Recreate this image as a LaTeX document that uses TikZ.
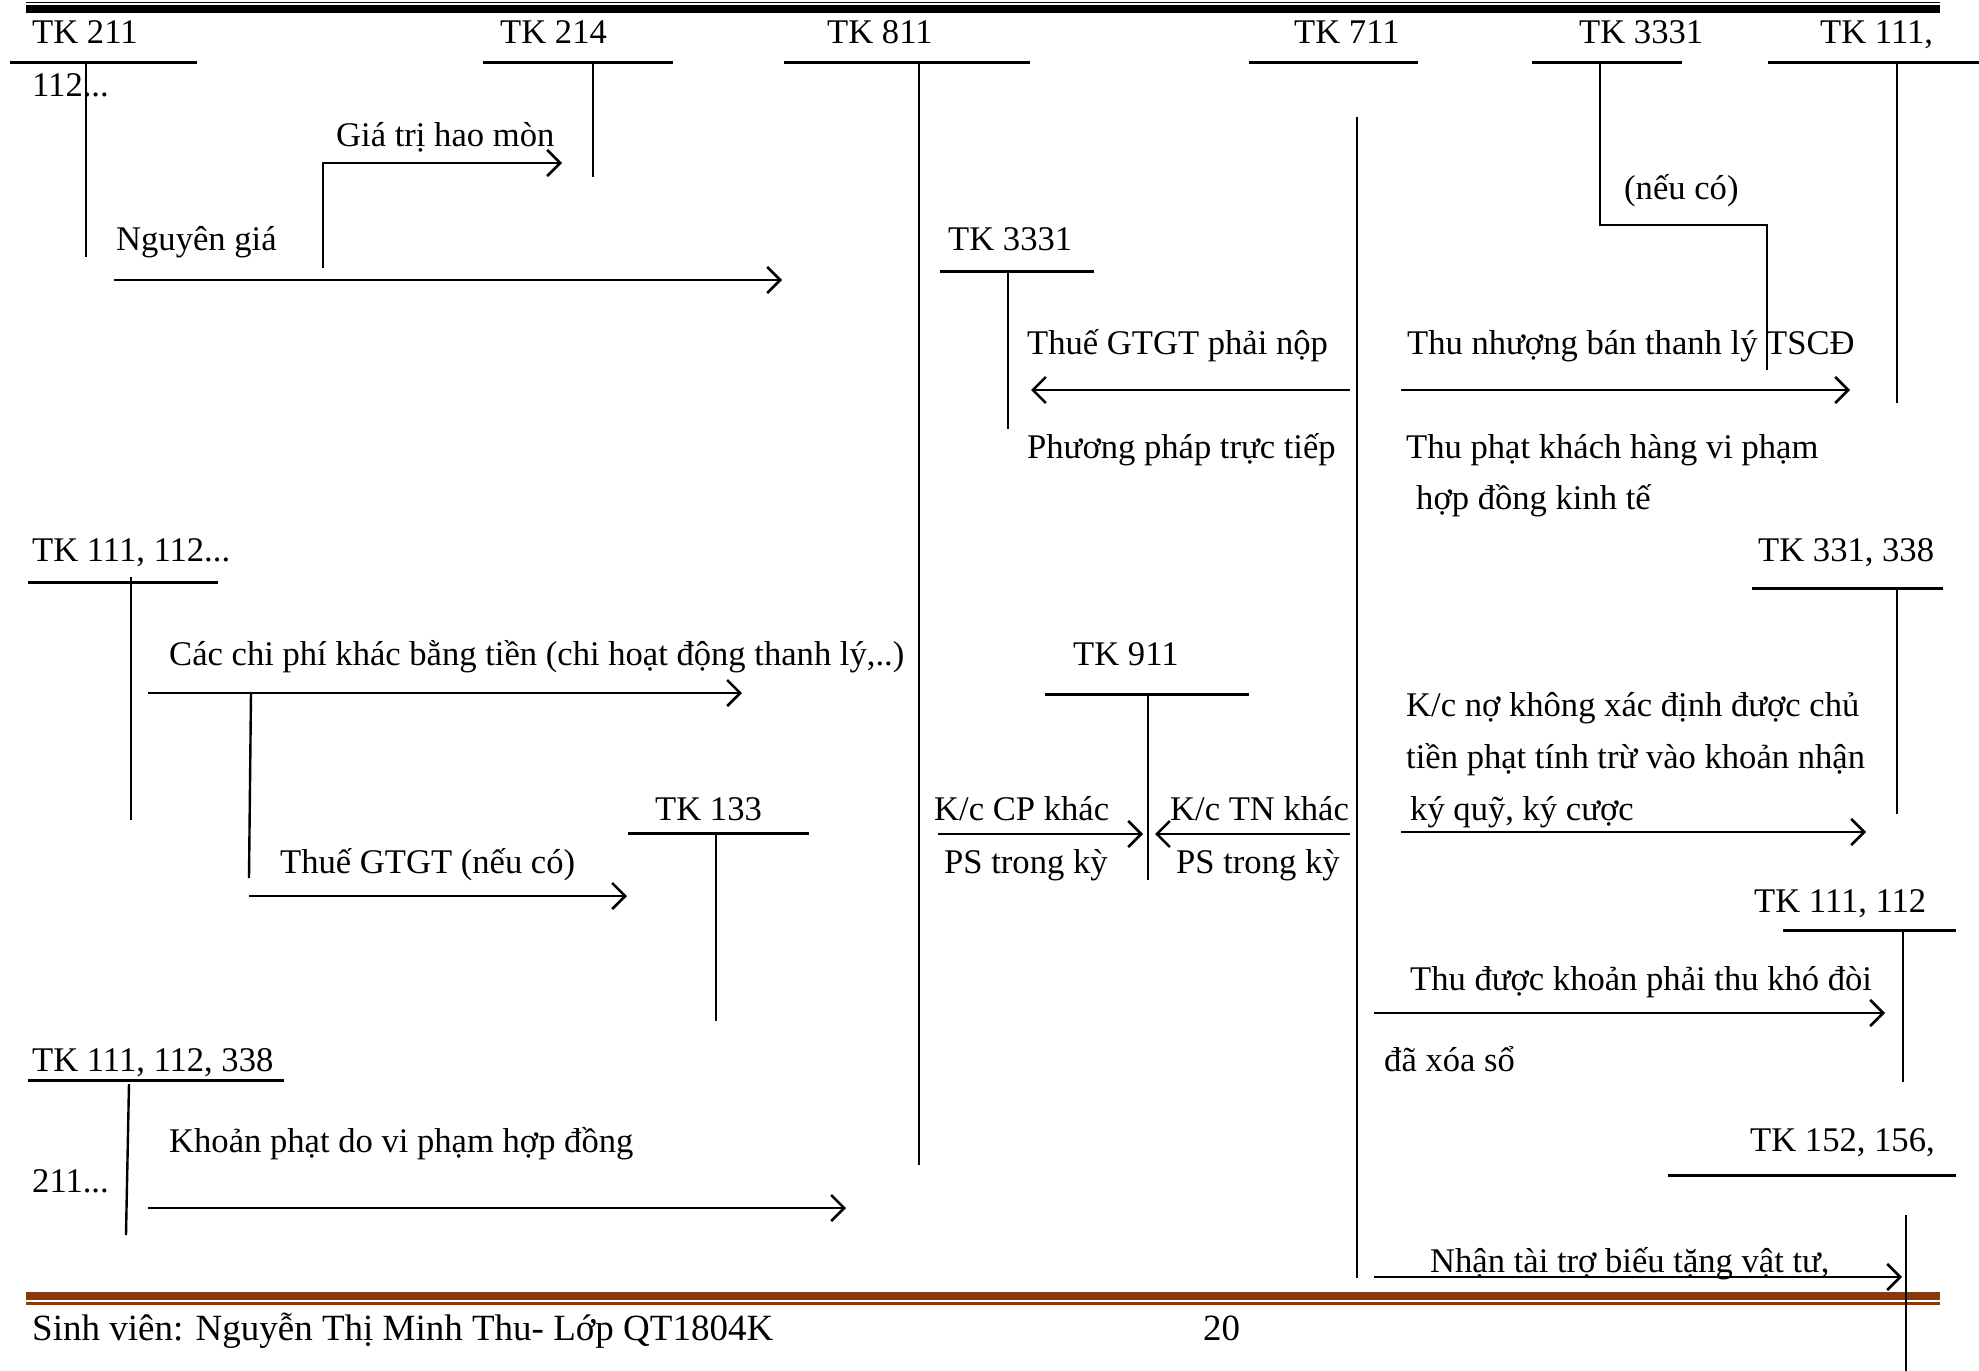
\documentclass[tikz,border=0pt]{standalone}
\usepackage{fontspec}
\setmainfont{Liberation Serif}
\usetikzlibrary{arrows.meta}
\definecolor{brownbar}{RGB}{132,60,12}
\tikzset{
  lbl/.style={anchor=base west,inner sep=0pt,font=\fontsize{34.6}{41}\selectfont},
  ftr/.style={anchor=base west,inner sep=0pt,font=\fontsize{37}{44}\selectfont},
  tln/.style={line width=3pt},
  vln/.style={line width=2.4pt},
  arr/.style={line width=2.6pt,-{Straight Barb[length=13pt,width=26pt,line width=2.6pt]}}
}
\begin{document}
\begin{tikzpicture}[x=1pt,y=-1pt]
\useasboundingbox (0,0) rectangle (1979,1371);
% top bar
\fill (26,1.5) rectangle (1940,3);
\fill (26,4.5) rectangle (1940,12.5);
% bottom brown bar
\fill[brownbar] (26,1291.5) rectangle (1940,1300);
\fill[brownbar] (26,1302) rectangle (1940,1305);

% ---- TK 211
\node[lbl] (t211) at (32,43) {TK 211};
\draw[tln] (10,62) -- (197,62);
\draw[vln] (86,62) -- (86,257);
\node[lbl] (n112) at (32,96) {112...};
% ---- TK 214
\node[lbl] (t214) at (500,43) {TK 214};
\draw[tln] (483,62) -- (673,62);
\draw[vln] (593,62) -- (593,177);
\node[lbl] (lhm) at (336,146) {Giá trị hao mòn};
\draw[arr] (323,268) -- (323,163) -- (562,163);
\node[lbl] (lng) at (116,250) {Nguyên giá};
\draw[arr] (114,280) -- (782,280);
% ---- TK 811
\node[lbl] (t811) at (827,43) {TK 811};
\draw[tln] (784,62) -- (1030,62);
\draw[vln] (919,62) -- (919,1165);
% ---- TK 3331 middle
\node[lbl] (t3331a) at (948,250) {TK 3331};
\draw[tln] (940,271) -- (1094,271);
\draw[vln] (1008,271) -- (1008,429);
\node[lbl] (lthue) at (1027,354) {Thuế GTGT phải nộp};
\draw[arr] (1350,390) -- (1031,390);
\node[lbl] (lpp) at (1027,458) {Phương pháp trực tiếp};
% ---- TK 711
\node[lbl] (t711) at (1294,43) {TK 711};
\draw[tln] (1249,62) -- (1418,62);
\draw[vln] (1357,117) -- (1357,1278);
% ---- TK 3331 right
\node[lbl] (t3331b) at (1579,43) {TK 3331};
\draw[tln] (1532,62) -- (1682,62);
\draw[vln] (1600,62) -- (1600,225) -- (1767,225) -- (1767,370);
\node[lbl] (lnc) at (1624,199) {(nếu có)};
% ---- TK 111,
\node[lbl] (t111a) at (1820,43) {TK 111,};
\draw[tln] (1768,62) -- (1979,62);
\draw[vln] (1897,62) -- (1897,403);
\node[lbl] (lthu) at (1407,354) {Thu nhượng bán thanh lý TSCĐ};
\draw[arr] (1401,390) -- (1850,390);
\node[lbl] (lphat1) at (1406,458) {Thu phạt khách hàng vi phạm};
\node[lbl] (lphat2) at (1416,509) {hợp đồng kinh tế};
% ---- TK 111, 112... left
\node[lbl] (t111b) at (32,561) {TK 111, 112...};
\draw[tln] (28,582) -- (218,582);
\draw[vln] (131,577) -- (131,820);
\node[lbl] (lcp) at (169,665) {Các chi phí khác bằng tiền (chi hoạt động thanh lý,..)};
\draw[arr] (148,693) -- (742,693);
\draw[vln] (251,693) -- (249,878);
\draw[arr] (249,896) -- (627,896);
\node[lbl] (lvat) at (280,873) {Thuế GTGT (nếu có)};
% ---- TK 133
\node[lbl] (t133) at (655,820) {TK 133};
\draw[tln] (628,833) -- (809,833);
\draw[vln] (716,833) -- (716,1021);
% ---- TK 911
\node[lbl] (t911) at (1073,665) {TK 911};
\draw[tln] (1045,694) -- (1249,694);
\draw[vln] (1148,694) -- (1148,880);
\node[lbl] (lkc1) at (934,820) {K/c CP khác};
\draw[arr] (938,834) -- (1143,834);
\node[lbl] (lps1) at (944,873) {PS trong kỳ};
\node[lbl] (lkc2) at (1170,820) {K/c TN khác};
\draw[arr] (1350,834) -- (1155,834);
\node[lbl] (lps2) at (1176,873) {PS trong kỳ};
% ---- TK 331, 338
\node[lbl] (t331) at (1758,561) {TK 331, 338};
\draw[tln] (1752,588) -- (1943,588);
\draw[vln] (1897,588) -- (1897,814);
\node[lbl] (lkn1) at (1406,716) {K/c nợ không xác định được chủ};
\node[lbl] (lkn2) at (1406,768) {tiền phạt tính trừ vào khoản nhận};
\node[lbl] (lkn3) at (1410,820) {ký quỹ, ký cược};
\draw[arr] (1401,832) -- (1866,832);
% ---- TK 111, 112 right
\node[lbl] (t111c) at (1754,912) {TK 111, 112};
\draw[tln] (1783,930) -- (1956,930);
\draw[vln] (1903,930) -- (1903,1082);
\node[lbl] (lkd) at (1410,990) {Thu được khoản phải thu khó đòi};
\draw[arr] (1374,1013) -- (1885,1013);
\node[lbl] (lxs) at (1384,1071) {đã xóa sổ};
% ---- TK 152, 156
\node[lbl] (t152) at (1750,1151) {TK 152, 156,};
\draw[tln] (1668,1175) -- (1956,1175);
\draw[vln] (1906,1215) -- (1906,1371);
\node[lbl] (ltt) at (1430,1272) {Nhận tài trợ biếu tặng vật tư,};
\draw[arr] (1374,1277) -- (1902,1277);
% ---- TK 111, 112, 338
\node[lbl] (t338) at (32,1071) {TK 111, 112, 338};
\draw[tln] (28,1080) -- (284,1080);
\draw[vln] (129,1084) -- (126,1235);
\node[lbl] (n211) at (32,1192) {211...};
\node[lbl] (lkp) at (169,1152) {Khoản phạt do vi phạm hợp đồng};
\draw[arr] (148,1208) -- (846,1208);
% footer
\node[ftr] (foot) at (32,1340) {Sinh viên: Nguyễn Thị Minh Thu- Lớp QT1804K};
\node[ftr] (page) at (1203,1340) {20};
\end{tikzpicture}
\end{document}
